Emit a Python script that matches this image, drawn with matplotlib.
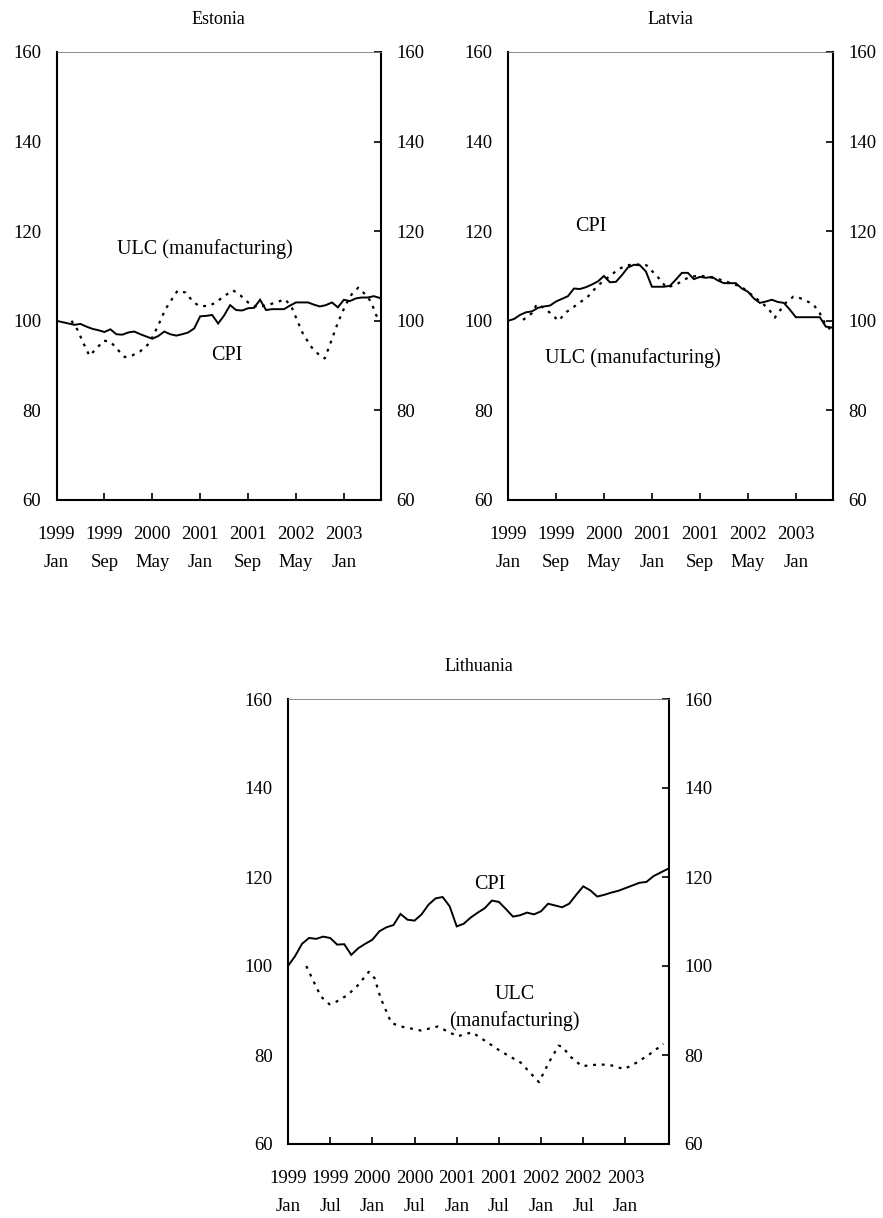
import matplotlib
matplotlib.use("Agg")
import matplotlib.pyplot as plt
import numpy as np

plt.rcParams['font.family'] = ['Liberation Serif', 'DejaVu Serif']

# ---------------- data ----------------
# CPI: monthly index, Jan 1999 = month 0
est_cpi = [100.0, 99.7, 99.4, 99.1, 99.3, 98.7, 98.2, 97.9, 97.5, 98.1,
           97.0, 96.9, 97.4, 97.6, 97.0, 96.5, 96.0, 96.6, 97.6, 97.0,
           96.7, 97.0, 97.4, 98.3, 101.0, 101.1, 101.3, 99.4, 101.2, 103.5,
           102.4, 102.3, 102.8, 102.9, 104.7, 102.4, 102.6, 102.6, 102.6, 103.4,
           104.1, 104.1, 104.1, 103.6, 103.2, 103.5, 104.1, 103.0, 104.7, 104.4,
           105.0, 105.2, 105.2, 105.5, 105.1]
lat_cpi = [100.0, 100.4, 101.3, 101.9, 102.1, 102.9, 103.2, 103.4, 104.3, 104.9,
           105.5, 107.2, 107.1, 107.5, 108.1, 108.8, 110.0, 108.6, 108.7, 110.2,
           111.9, 112.5, 112.4, 111.0, 107.6, 107.6, 107.6, 107.8, 109.2, 110.7,
           110.7, 109.3, 109.8, 109.6, 109.8, 109.0, 108.4, 108.4, 108.4, 107.2,
           106.5, 105.0, 104.0, 104.3, 104.7, 104.2, 104.0, 102.5, 100.8, 100.8,
           100.8, 100.8, 100.8, 98.7, 98.5]
lit_cpi = [100.0, 102.2, 105.0, 106.3, 106.1, 106.6, 106.3, 104.8, 104.9, 102.5,
           104.0, 105.0, 105.9, 107.8, 108.7, 109.2, 111.7, 110.4, 110.2, 111.6,
           113.8, 115.2, 115.5, 113.4, 108.9, 109.5, 110.9, 112.0, 113.0, 114.7,
           114.4, 112.8, 111.1, 111.4, 112.0, 111.6, 112.3, 114.0, 113.6, 113.2,
           114.0, 116.0, 117.9, 117.0, 115.6, 116.0, 116.5, 116.9, 117.5, 118.1,
           118.7, 118.9, 120.2, 121.0, 121.8]

# ULC (manufacturing): vertices (month index, value)
est_ulc_month = [2.5, 3.5, 4.5, 5.5, 6.6, 7.9, 9.1, 10.4, 11.4, 12.7, 14.0, 15.2,
                 16.0, 17.0, 18.2, 20.2, 21.6, 22.7, 23.8, 25.4, 26.5, 28.0, 29.5,
                 30.7, 32.0, 33.5, 35.5, 38.2, 39.3, 40.1, 41.2, 42.6, 44.0, 44.8,
                 45.7, 47.0, 48.2, 49.3, 50.4, 51.8, 52.6, 53.3, 53.8]
est_ulc = [100.0, 98.0, 95.0, 92.2, 93.7, 95.6, 95.2, 93.3, 91.9, 92.3, 93.2, 94.6,
           96.3, 99.0, 102.6, 106.7, 106.3, 104.4, 103.3, 103.3, 104.0, 105.5, 106.8,
           105.7, 104.1, 103.0, 103.6, 104.8, 103.0, 100.4, 97.0, 94.1, 92.2, 91.6,
           94.8, 99.6, 103.3, 105.9, 107.4, 105.6, 104.1, 101.5, 100.3]
lat_ulc_month = [2.5, 4.0, 4.8, 5.6, 7.3, 8.4, 9.8, 12.0, 13.4, 14.8, 15.9, 17.0,
                 18.4, 19.8, 21.4, 23.1, 25.3, 26.4, 28.1, 29.0, 30.3, 32.0, 34.2,
                 36.2, 37.6, 38.7, 39.8, 41.2, 42.6, 43.7, 44.5, 45.3, 46.4, 47.6,
                 48.5, 49.8, 50.9, 52.0, 52.8, 53.7]
lat_ulc = [100.2, 101.7, 103.7, 103.2, 101.5, 100.0, 102.0, 104.1, 105.5, 107.6,
           108.9, 110.0, 111.5, 112.4, 112.6, 112.4, 109.3, 107.4, 108.1, 108.9,
           109.8, 110.1, 109.6, 108.9, 108.1, 107.8, 106.7, 105.2, 103.7, 102.2,
           100.7, 102.2, 104.1, 105.4, 105.2, 104.4, 103.7, 101.7, 99.6, 98.1]
lit_ulc_month = [2.6, 3.8, 4.7, 5.9, 6.9, 8.5, 9.9, 11.5, 12.3, 13.2, 14.7, 16.1,
                 18.9, 21.3, 24.1, 26.2, 30.3, 33.1, 35.7, 37.1, 38.5, 39.0, 40.2,
                 41.8, 44.4, 46.3, 47.8, 49.6, 51.3, 53.4]
lit_ulc = [100.0, 96.0, 93.1, 91.4, 92.0, 93.5, 95.6, 98.7, 97.3, 92.7, 87.2, 86.4,
           85.5, 86.4, 84.2, 85.1, 80.8, 78.3, 73.9, 78.3, 82.1, 81.9, 79.6,
           77.5, 77.9, 77.6, 76.8, 78.3, 80.0, 82.5]

ticks_8 = [0, 8, 16, 24, 32, 40, 48]
labels_8 = ["1999\nJan", "1999\nSep", "2000\nMay", "2001\nJan", "2001\nSep",
            "2002\nMay", "2003\nJan"]
ticks_6 = [0, 6, 12, 18, 24, 30, 36, 42, 48]
labels_6 = ["1999\nJan", "1999\nJul", "2000\nJan", "2000\nJul", "2001\nJan",
            "2001\nJul", "2002\nJan", "2002\nJul", "2003\nJan"]
yticks = [60, 80, 100, 120, 140, 160]

W, H = 883, 1218
fig = plt.figure(figsize=(W / 100, H / 100), dpi=100)


def make_ax(l, r, t, b):
    return fig.add_axes([l / W, 1 - b / H, (r - l) / W, (b - t) / H])


def style(ax, title, cpi, um, ulc, xt, xl, notes):
    months = np.arange(len(cpi))
    ax.plot(months, cpi, color='black', lw=1.4, solid_joinstyle='miter')
    ax.plot(um, ulc, color='black', lw=1.6, linestyle=(0, (1.3, 2.6)))
    ax.set_xlim(0, 54.2)
    ax.set_ylim(60, 160)
    ax.set_yticks(yticks)
    ax.set_yticklabels([str(v) for v in yticks])
    ax.set_xticks(xt)
    ax.set_xticklabels(xl, linespacing=1.8)
    for s in ('left', 'bottom', 'right'):
        ax.spines[s].set_linewidth(1.5)
        ax.spines[s].set_color('black')
    ax.spines['top'].set_linewidth(0.6)
    ax.spines['top'].set_color('#777777')
    ax.tick_params(axis='y', direction='in', left=False, right=True,
                   labelleft=True, labelright=True, length=5, width=1.2,
                   pad=11, labelsize=13.5)
    ax.tick_params(axis='x', direction='in', bottom=True, top=False,
                   length=5, width=1.2, pad=19, labelsize=13.5)
    ax.set_title(title, fontsize=13, pad=20)
    for (tx, ty, s) in notes:
        ax.text(tx, ty, s, ha='center', va='center', fontsize=14.5)


ax1 = make_ax(56.5, 381, 52, 500)
style(ax1, "Estonia", est_cpi, est_ulc_month, est_ulc, ticks_8, labels_8,
      [(24.7, 116.1, "ULC (manufacturing)"), (28.4, 92.2, "CPI")])

ax2 = make_ax(508, 833, 52, 500)
style(ax2, "Latvia", lat_cpi, lat_ulc_month, lat_ulc, ticks_8, labels_8,
      [(13.8, 121.1, "CPI"), (20.9, 91.6, "ULC (manufacturing)")])

ax3 = make_ax(288, 669, 699, 1144)
style(ax3, "Lithuania", lit_cpi, lit_ulc_month, lit_ulc, ticks_6, labels_6,
      [(28.7, 118.3, "CPI"), (32.3, 93.7, "ULC"), (32.2, 87.6, "(manufacturing)")])

fig.savefig("out.png", dpi=100)
